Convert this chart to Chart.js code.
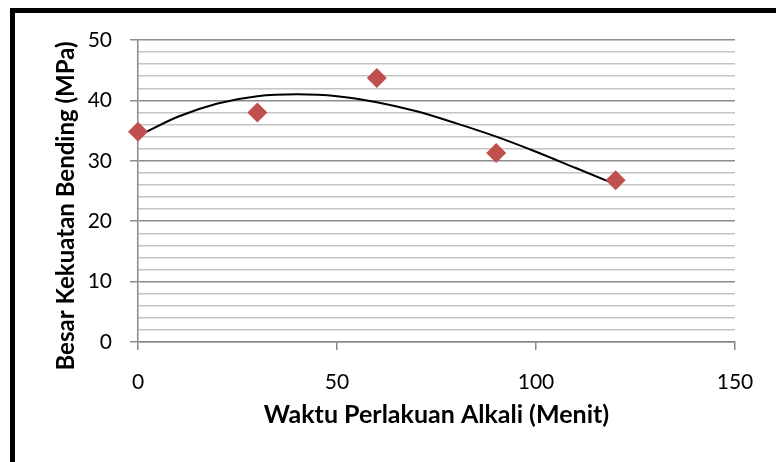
<!DOCTYPE html>
<html>
<head>
<meta charset="utf-8">
<script src="https://cdn.jsdelivr.net/npm/chart.js@4/dist/chart.umd.min.js"></script>
<style>
  body { margin: 0; background: #fff; }
  #wrap { position: relative; width: 776px; height: 462px; overflow: hidden; }
  #frame { position: absolute; left: 10px; top: 8px; width: 820px; height: 520px; border: 5px solid #000; }
  #chart { position: absolute; left: 0; top: 0; }
</style>
</head>
<body>
<div id="wrap">
  <div id="frame"></div>
  <canvas id="chart" width="776" height="462"></canvas>
</div>
<script>
// measured points
const waktu = [0, 30, 60, 90, 120];
const kekuatan = [34.8, 38.0, 43.7, 31.3, 26.8];

// trend line
const trendX = [0, 10, 20, 30, 40, 50, 60, 70, 80, 90, 100, 110, 120];
const trendY = [34.1, 37.3, 39.5, 40.7, 41.0, 40.7, 39.7, 38.2, 36.2, 34.0, 31.5, 28.8, 26.1];

const xTicks = [0, 50, 100, 150];
const yTicks = [0, 10, 20, 30, 40, 50];

const yTitle = 'Besar Kekuatan Bending (MPa)';
const font = "Lato, 'Open Sans', sans-serif";

// y title sits a bit below the middle of the plot, like the original
const yTitlePlugin = {
  id: 'yTitle',
  afterDraw(chart) {
    const c = chart.ctx;
    const mid = (chart.chartArea.top + chart.chartArea.bottom) / 2 + 15;
    c.save();
    c.translate(66, mid);
    c.rotate(-Math.PI / 2);
    c.font = 'bold 24px ' + font;
    c.fillStyle = '#000';
    c.textAlign = 'center';
    c.textBaseline = 'middle';
    c.fillText(yTitle, 0, 0);
    c.restore();
  }
};

const ctx = document.getElementById('chart').getContext('2d');
new Chart(ctx, {
  type: 'scatter',
  data: {
    datasets: [
      {
        label: 'Trend',
        data: trendX.map((x, i) => ({ x: x, y: trendY[i] })),
        showLine: true,
        borderColor: '#000',
        borderWidth: 2,
        pointRadius: 0,
        cubicInterpolationMode: 'monotone',
        clip: false,
        order: 1
      },
      {
        label: 'Data',
        data: waktu.map((x, i) => ({ x: x, y: kekuatan[i] })),
        pointStyle: 'rectRot',
        pointRadius: 10,
        backgroundColor: '#C0504D',
        borderColor: '#C0504D',
        borderWidth: 0,
        clip: false,
        order: 0
      }
    ]
  },
  options: {
    responsive: false,
    animation: false,
    layout: { padding: { left: 51, right: 41, top: 40, bottom: 28 } },
    plugins: { legend: { display: false }, tooltip: { enabled: false } },
    scales: {
      x: {
        type: 'linear',
        min: 0,
        max: 150,
        afterBuildTicks: axis => { axis.ticks = xTicks.map(v => ({ value: v })); },
        ticks: { color: '#000', font: { family: font, size: 21 }, padding: 20, maxRotation: 0 },
        grid: { drawOnChartArea: false, color: '#888', tickLength: 8, lineWidth: 1.5 },
        border: { color: '#888', width: 1.5 },
        title: {
          display: true,
          text: 'Waktu Perlakuan Alkali (Menit)',
          color: '#000',
          font: { family: font, size: 25, weight: 'bold' },
          padding: { top: 8 }
        },
        afterFit: axis => { axis.height = 92; }
      },
      y: {
        min: 0,
        max: 50,
        ticks: {
          stepSize: 2,
          autoSkip: false,
          color: '#000',
          font: { family: font, size: 21 },
          padding: 18,
          callback: v => (yTicks.includes(v) ? v : '')
        },
        grid: {
          color: c => (c.tick && c.tick.value % 10 === 0 ? '#8c8c8c' : '#c4c4c4'),
          tickColor: c => (c.tick && c.tick.value % 10 === 0 ? '#8c8c8c' : 'rgba(0,0,0,0)'),
          lineWidth: 1.5,
          tickLength: 8
        },
        border: { color: '#888', width: 1.5 },
        title: { display: false },
        afterFit: axis => { axis.width = 87; }
      }
    }
  },
  plugins: [yTitlePlugin]
});
</script>
</body>
</html>
